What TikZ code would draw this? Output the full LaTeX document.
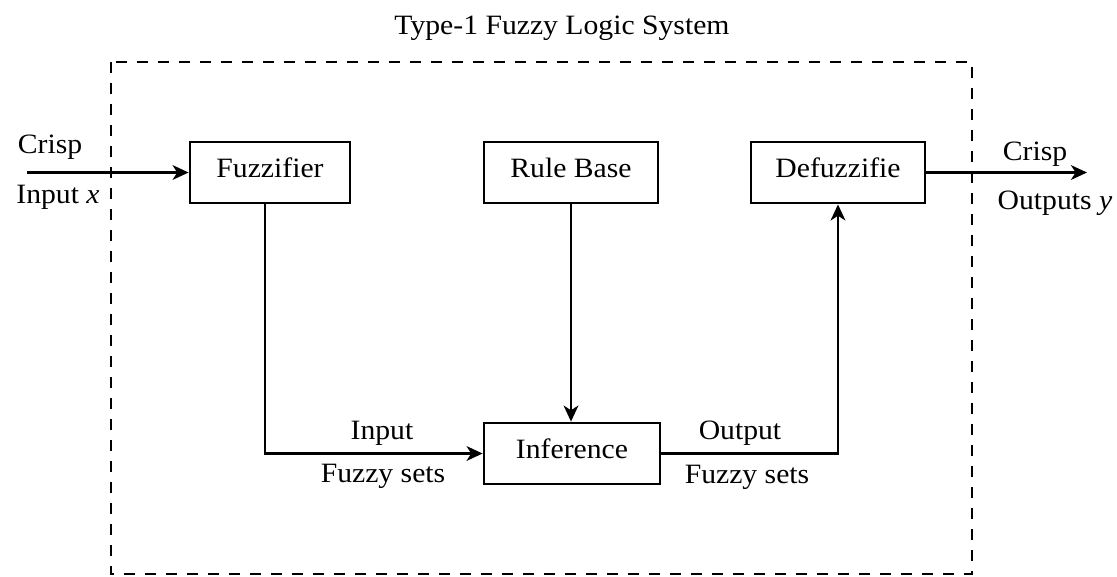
\documentclass[tikz,border=0pt]{standalone}
\usepackage{fontspec}
\setmainfont{Liberation Serif}[FakeStretch=1.06]
\usetikzlibrary{arrows.meta}
\begin{document}
\begin{tikzpicture}[x=0.75pt,y=-0.75pt,
  blk/.style={draw=black,line width=2.1pt,text height=35*0.75pt,text depth=26*0.75pt,inner sep=0pt,font=\fontsize{21}{24}\selectfont},
  lbl/.style={anchor=base,inner sep=0pt,font=\fontsize{21}{24}\selectfont},
  conn/.style={line width=2.1pt,-{Stealth[length=12pt,width=11pt,inset=3.5pt]}},
  frame/.style={line width=2.1pt,dash pattern=on 8.25pt off 7.5pt}]
\useasboundingbox (0,0) rectangle (1117,576);
\draw[frame] (111,62) rectangle (972,574);
\node[lbl] (title) at (562,34) {Type-1 Fuzzy Logic System};
\node[blk,minimum width=160*0.75pt] (fuz) at (270,172.5) {Fuzzifier};
\node[blk,minimum width=174*0.75pt] (rule) at (571,172.5) {Rule Base};
\node[blk,minimum width=174*0.75pt] (defuz) at (838,172.5) {Defuzzifie};
\node[blk,minimum width=176*0.75pt] (inf) at (572,453.5) {Inference};
\coordinate (inx) at (27,172.5);
\coordinate (outy) at (1087,172.5);
\coordinate (fuzdrop) at (265,172.5);
\draw[conn] (inx) -- (fuz.west);
\draw[conn] (defuz.east) -- (outy);
\draw[conn] (fuzdrop |- fuz.south) |- (inf.west);
\draw[conn] (rule.south) -- (rule.south |- inf.north);
\draw[conn] (inf.east) -| (defuz.south);
\node[lbl] (crispin) at (50,153) {Crisp};
\node[lbl] (inputx) at (58,203) {Input \textit{x}};
\node[lbl] (crispout) at (1035,160) {Crisp};
\node[lbl] (outputy) at (1055,209) {Outputs \textit{y}};
\node[lbl] (inlab) at (382,439) {Input};
\node[lbl] (infs) at (383,482) {Fuzzy sets};
\node[lbl] (outlab) at (740,439) {Output};
\node[lbl] (outfs) at (747,483) {Fuzzy sets};
\end{tikzpicture}
\end{document}
